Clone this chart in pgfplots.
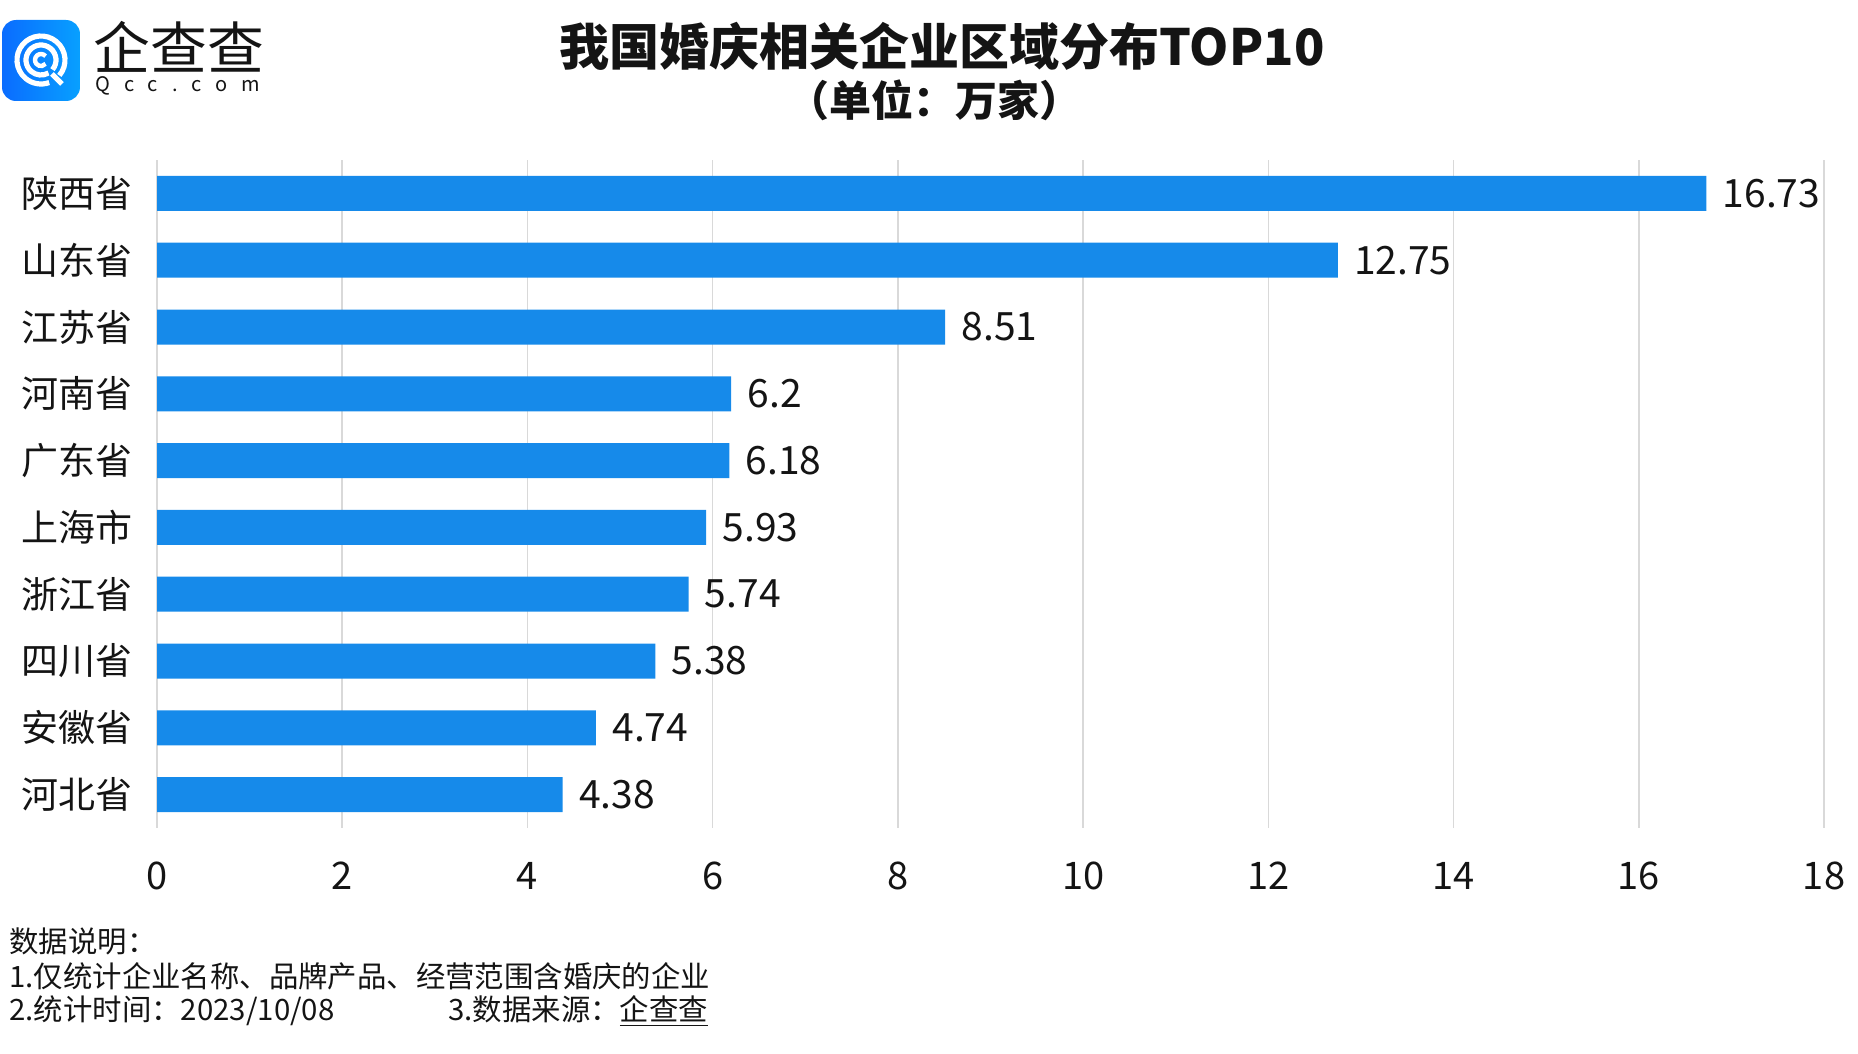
\documentclass[border=0pt]{standalone}
\usepackage{fontspec}
\setmainfont{Noto Sans CJK SC}
\usepackage{pgfplots}
\pgfplotsset{compat=1.18}
\definecolor{barblue}{RGB}{22,138,234}
\definecolor{txt}{RGB}{20,20,20}
\definecolor{logoA}{RGB}{10,108,255}
\definecolor{logoB}{RGB}{8,160,255}
\begin{document}
\begin{tikzpicture}
\path[use as bounding box] (0,0) rectangle (929pt,-527pt);
% logo
\shade[left color=logoA, right color=logoB, rounded corners=7pt] (1pt,-10pt) rectangle (40pt,-50.5pt);
\draw[white, line width=2.6pt] (20.5pt,-30pt) ++(-40:12pt) arc[start angle=-40, end angle=290, radius=12pt];
\draw[white, line width=2.6pt] (20.5pt,-30pt) ++(-40:7.5pt) arc[start angle=-40, end angle=300, radius=7.5pt];
\draw[white, line width=2.2pt] (20.5pt,-30pt) ++(40:3pt) arc[start angle=40, end angle=320, radius=3pt];
\draw[white, line width=2.6pt] (26pt,-37pt) -- (31pt,-42pt);
\node[anchor=west, inner sep=0pt, text=txt] at (46.5pt,-23.5pt) {\fontsize{28.4pt}{30pt}\selectfont 企查查};
\node[anchor=west, inner sep=0pt, text=txt] at (47.5pt,-43pt) {\fontsize{10pt}{12pt}\selectfont\addfontfeature{LetterSpace=70}Qcc.com};
% title
\node[text=txt, inner sep=0pt] at (471pt,-23pt) {\fontsize{25pt}{28pt}\selectfont\bfseries 我国婚庆相关企业区域分布TOP10};
\node[text=txt, inner sep=0pt] at (467pt,-50pt) {\fontsize{21pt}{24pt}\selectfont\bfseries （单位：万家）};
% axis
\begin{axis}[
  at={(78.5pt,-80pt)}, anchor=north west, scale only axis,
  width=833.5pt, height=334pt,
  xbar, bar width=17.5pt,
  xmin=0, xmax=18, ymin=-0.5, ymax=9.5, y dir=reverse,
  ytick={0,...,9},
  yticklabels={陕西省,山东省,江苏省,河南省,广东省,上海市,浙江省,四川省,安徽省,河北省},
  xtick={0,2,...,18},
  xmajorgrids, grid style={color=black!15, line width=0.75pt},
  axis line style={draw=none}, major tick length=0pt,
  /pgf/number format/assume math mode=true,
  xticklabel style={font=\fontsize{19pt}{21pt}\selectfont, text=txt, yshift=-13.5pt},
  yticklabel style={font=\fontsize{18.5pt}{20pt}\selectfont, text=txt, inner sep=0pt, xshift=-11.8pt},
  point meta=explicit symbolic,
  nodes near coords,
  nodes near coords style={anchor=west, inner sep=0pt, xshift=8pt, text=txt, font=\fontsize{19.5pt}{21pt}\selectfont},
]
\addplot[fill=barblue, draw=none] coordinates {
(16.73,0) [16.73]
(12.75,1) [12.75]
(8.51,2) [8.51]
(6.2,3) [6.2]
(6.18,4) [6.18]
(5.93,5) [5.93]
(5.74,6) [5.74]
(5.38,7) [5.38]
(4.74,8) [4.74]
(4.38,9) [4.38]
};
\end{axis}
% footer
\node[anchor=west, inner sep=0pt, text=txt] at (4.5pt,-470.5pt) {\fontsize{14.7pt}{16pt}\selectfont 数据说明：};
\node[anchor=west, inner sep=0pt, text=txt] at (4.5pt,-488pt) {\fontsize{14.7pt}{16pt}\selectfont 1.仅统计企业名称、品牌产品、经营范围含婚庆的企业};
\node[anchor=west, inner sep=0pt, text=txt] at (4.5pt,-505.5pt) {\fontsize{14.7pt}{16pt}\selectfont 2.统计时间：2023/10/08};
\node[anchor=west, inner sep=0pt, text=txt] at (224pt,-505.5pt) {\fontsize{14.7pt}{16pt}\selectfont 3.数据来源：\underline{企查查}};
\end{tikzpicture}
\end{document}
